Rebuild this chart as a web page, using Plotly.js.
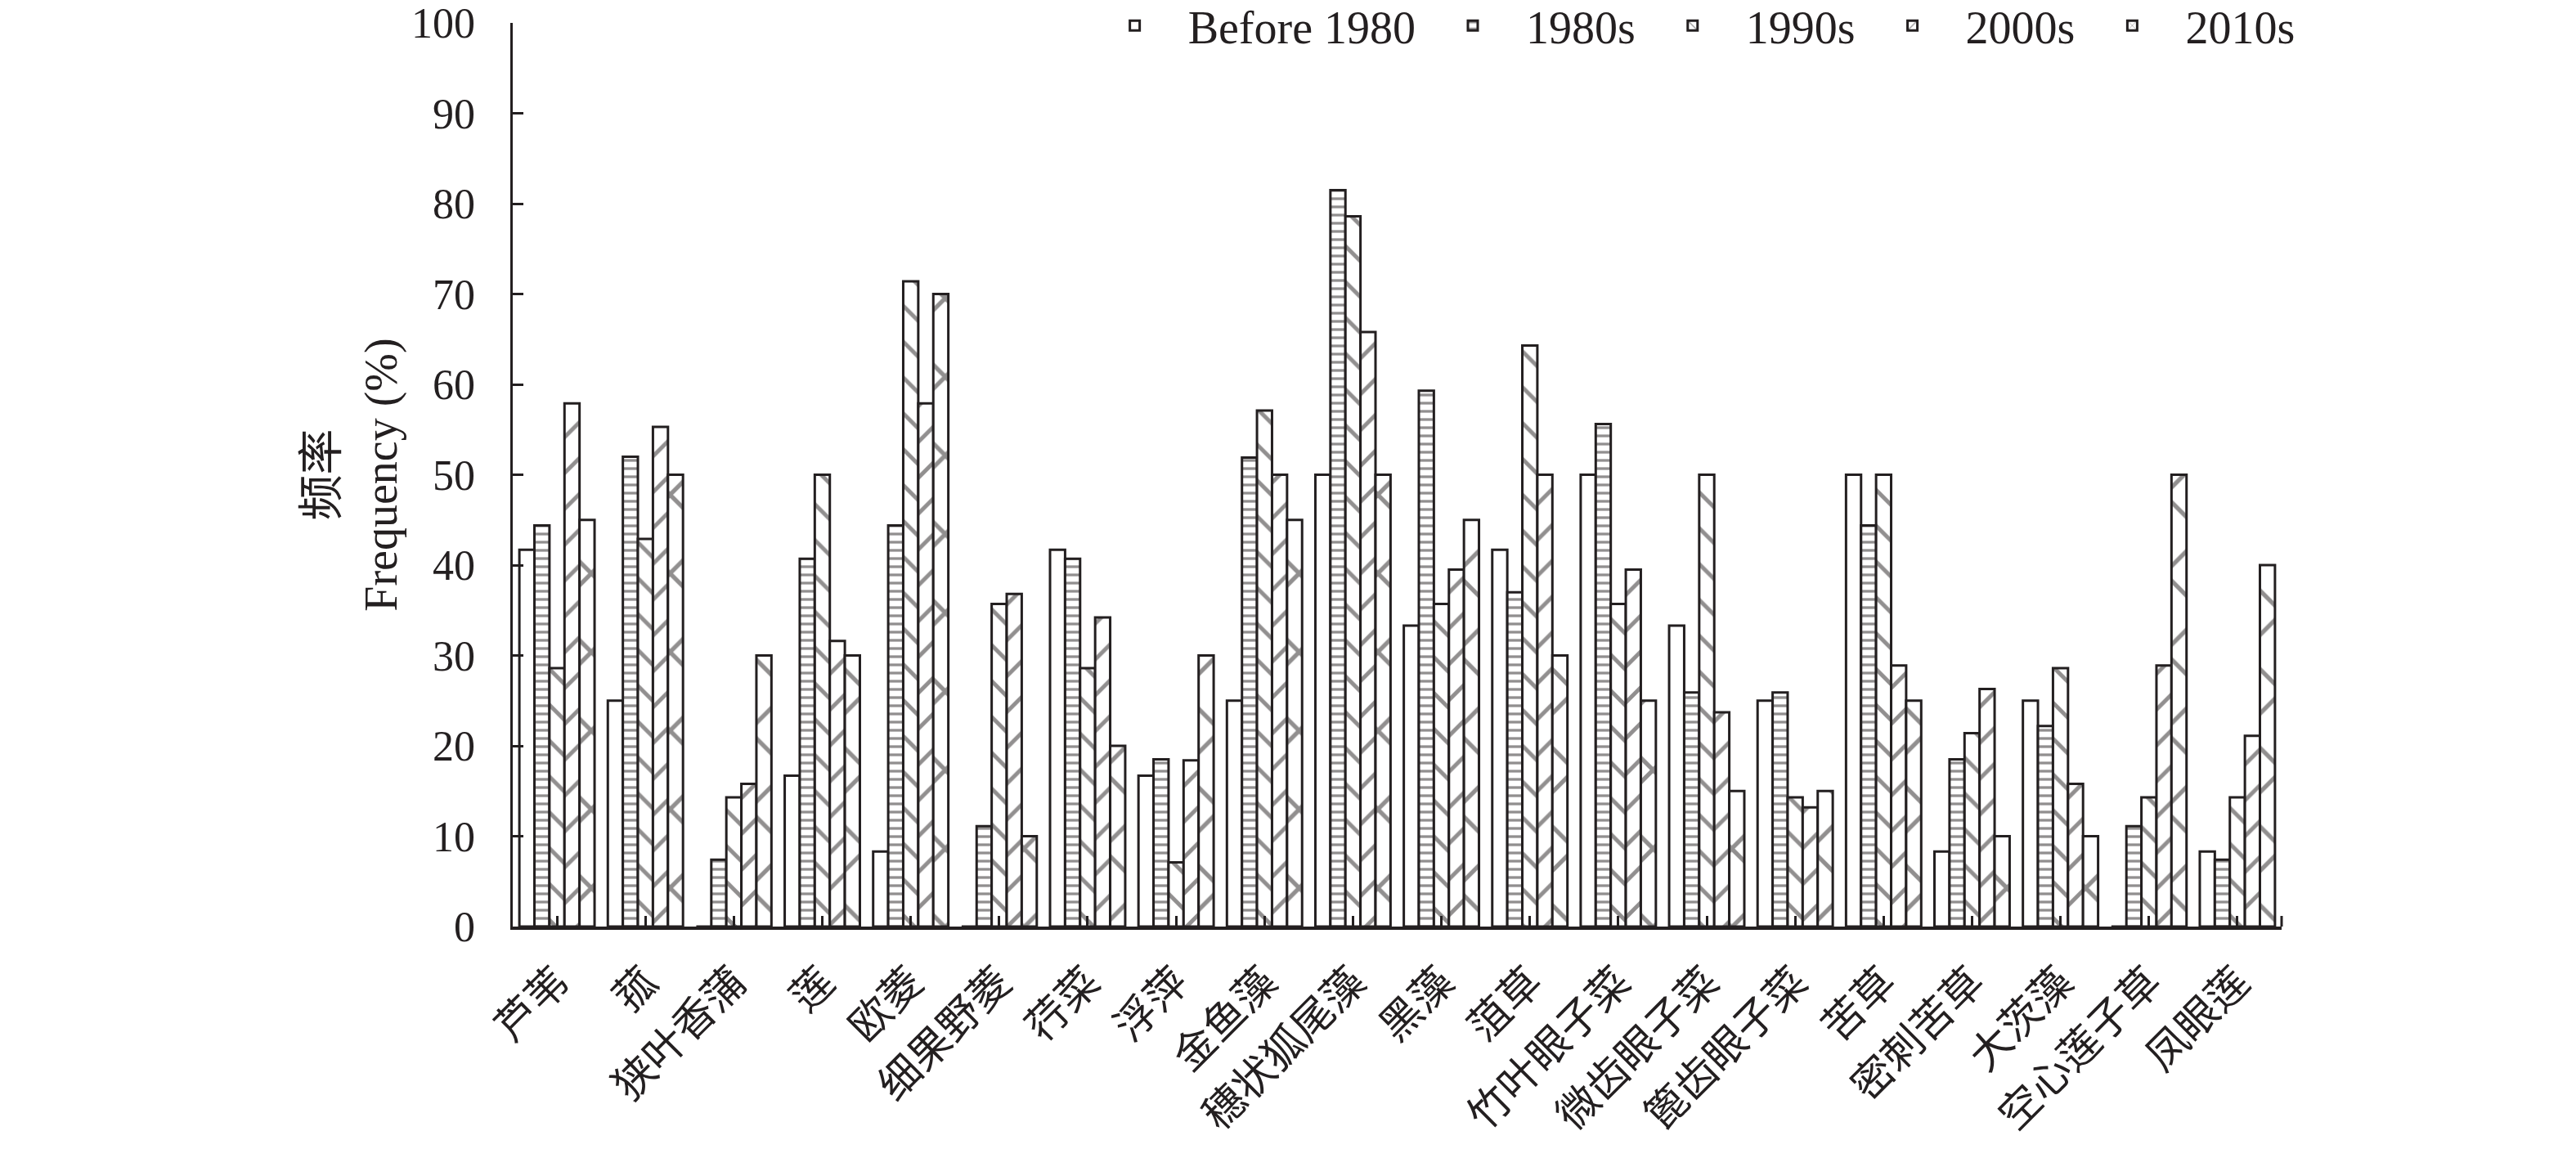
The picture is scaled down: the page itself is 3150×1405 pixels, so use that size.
<!DOCTYPE html>
<html>
<head>
<meta charset="utf-8">
<script src="https://cdn.plot.ly/plotly-3.0.1.min.js"></script>
<style>html,body{margin:0;padding:0;background:#fff;}</style>
</head>
<body>
<div id="chart" style="width:3150px;height:1405px;"></div>
<script>
const categories = ['芦苇','菰','狭叶香蒲','莲','欧菱','细果野菱','荇菜','浮萍','金鱼藻','穗状狐尾藻','黑藻','菹草','竹叶眼子菜','微齿眼子菜','篦齿眼子菜','苦草','密刺苦草','大茨藻','空心莲子草','凤眼莲'];
const seriesNames = ['Before 1980','1980s','1990s','2000s','2010s'];
const before1980 = [41.7,25.0,0,16.7,8.3,0,41.7,16.7,25.0,50.0,33.3,41.7,50.0,33.3,25.0,50.0,8.3,25.0,0,8.3];
const s1980s = [44.4,52.0,7.4,40.7,44.4,11.1,40.7,18.5,51.9,81.5,59.3,37.0,55.6,25.9,25.9,44.4,18.5,22.2,11.1,7.4];
const s1990s = [28.6,42.9,14.3,50.0,71.4,35.7,28.6,7.1,57.1,78.6,35.7,64.3,35.7,50.0,14.3,50.0,21.4,28.6,14.3,14.3];
const s2000s = [57.9,55.3,15.8,31.6,57.9,36.8,34.2,18.4,50.0,65.8,39.5,50.0,39.5,23.7,13.2,28.9,26.3,15.8,28.9,21.1];
const s2010s = [45.0,50.0,30.0,30.0,70.0,10.0,20.0,30.0,45.0,50.0,45.0,30.0,25.0,15.0,15.0,25.0,10.0,10.0,50.0,40.0];
const yTicks = [0,10,20,30,40,50,60,70,80,90,100];

const ink = '#231f20';
const serif = 'Liberation Serif, Times New Roman, Noto Sans CJK SC, serif';
const values = [before1980, s1980s, s1990s, s2000s, s2010s];
const patterns = [
  {shape:'', size:8, solidity:0.2},
  {shape:'-', size:10, solidity:0.33},
  {shape:'\\', size:31, solidity:0.16},
  {shape:'/', size:31, solidity:0.16},
  {shape:'x', size:68, solidity:0.15}
];

const traces = values.map((v, i) => ({
  type:'bar',
  name: seriesNames[i],
  x: categories,
  y: v,
  marker: {
    color:'white',
    line:{color:ink, width:3},
    pattern: Object.assign({fgcolor:ink, bgcolor:'white', fillmode:'overlay'}, patterns[i])
  },
  hoverinfo:'x+y+name'
}));

const layout = {
  width:3150, height:1405,
  margin:{l:627, r:360, t:28, b:272, autoexpand:false},
  paper_bgcolor:'white', plot_bgcolor:'white',
  barmode:'group', bargap:0.15, bargroupgap:0,
  font:{family:serif, color:ink, size:50},
  xaxis:{
    type:'category', showline:true, linecolor:ink, linewidth:3.5,
    ticks:'inside', ticklen:13, tickwidth:3, tickcolor:ink,
    tickangle:-45, tickfont:{family:serif, size:51, color:ink}, ticklabelstandoff:14,
    showgrid:false, zeroline:false, automargin:false
  },
  yaxis:{
    range:[0,100], tickvals:yTicks, ticktext:yTicks.map(String),
    showline:true, linecolor:ink, linewidth:3.5,
    ticks:'inside', ticklen:13, tickwidth:3, tickcolor:ink,
    tickfont:{family:serif, size:52, color:ink}, ticklabelstandoff:32,
    showgrid:false, zeroline:false, automargin:false,
    title:{text:'频率<br>Frequency (%)', font:{family:serif, size:56, color:ink}, standoff:0}
  },
  shapes:[{type:'line', xref:'paper', yref:'paper', x0:1, x1:1, y0:0, y1:13/1105, line:{color:ink, width:3}}],
  showlegend:true,
  legend:{
    orientation:'h', x:1.01, xanchor:'right', y:0.997, yanchor:'middle',
    bgcolor:'rgba(0,0,0,0)', font:{family:serif, size:56, color:ink},
    itemwidth:120, traceorder:'normal', itemclick:false, itemdoubleclick:false
  }
};

Plotly.newPlot('chart', traces, layout, {staticPlot:true, displayModeBar:false});
</script>
</body>
</html>
